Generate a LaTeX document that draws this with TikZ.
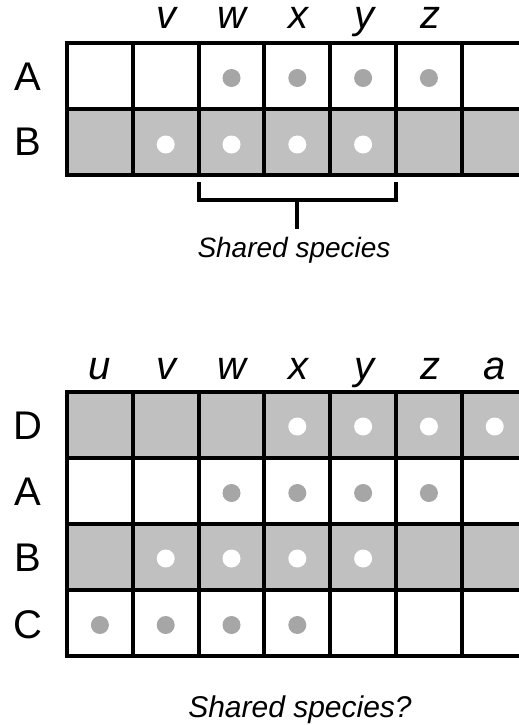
\documentclass[tikz,border=0pt]{standalone}
\usepackage{fontspec}
\setmainfont{Liberation Sans}
\usepackage{xcolor}
\usepackage{tikz}
\usetikzlibrary{positioning}
\definecolor{cellgray}{RGB}{192,192,192}
\definecolor{dotgray}{RGB}{166,166,166}
\tikzstyle{rowlabel} = [font=\fontsize{40}{40}\selectfont, inner sep=0pt]
\tikzstyle{collabel} = [font=\fontsize{40}{40}\selectfont\itshape, anchor=base, inner sep=0pt, text height=22pt, text depth=8pt]
\tikzstyle{caption} = [font=\fontsize{28}{28}\selectfont\itshape, anchor=base, inner sep=0pt]
\tikzstyle{graydot} = [circle, fill=dotgray, minimum size=18pt, inner sep=0pt]
\tikzstyle{whitedot} = [circle, fill=white, minimum size=18pt, inner sep=0pt]
\tikzstyle{gridline} = [line width=4pt]

\begin{document}
\begin{tikzpicture}[x=1pt, y=-1pt]
\useasboundingbox (0,0) rectangle (519,725);
\clip (0,0) rectangle (519,725);

% first table: sites A and B
\fill [cellgray] (67,109.1) rectangle (527.6,175);
\draw [gridline] (67,43.3) rectangle (527.6,175);
\draw [gridline] (67,109.1) -- (527.6,109.1);
\foreach \i in {1,...,6} \draw [gridline] ({67+65.8*\i},43.3) -- ({67+65.8*\i},175);

\foreach \i in {3,...,6} \node [graydot] at ({67+65.8*(\i-0.5)},78) {};
\foreach \i in {2,...,5} \node [whitedot] at ({67+65.8*(\i-0.5)},144.5) {};

\node (topA) [rowlabel] at (28,76.5) {A};
\node (topB) [rowlabel] at (28,142) {B};

\node (topv) [collabel] at (166,29) {v};
\node (topw) [collabel] at (232,29) {w};
\node (topx) [collabel] at (298,29) {x};
\node (topy) [collabel] at (364,29) {y};
\node (topz) [collabel] at (430,29) {z};

% bracket over the shared columns
\coordinate (brkL) at (198.6,182);
\coordinate (brkM) at (297,200);
\coordinate (brkR) at (396,182);
\node (shared) [caption] at (294,257) {Shared species};
\draw [gridline] (brkL) |- (brkM) -| (brkR);
\draw [gridline, shorten >=8pt] (brkM) -- (brkM |- shared.north);

% second table: sites D, A, B and C
\fill [cellgray] (67,392) rectangle (527.6,457.9);
\fill [cellgray] (67,523.8) rectangle (527.6,589.7);
\draw [gridline] (67,392) rectangle (527.6,655.6);
\foreach \j in {1,2,3} \draw [gridline] (67,{392+65.9*\j}) -- (527.6,{392+65.9*\j});
\foreach \i in {1,...,6} \draw [gridline] ({67+65.8*\i},392) -- ({67+65.8*\i},655.6);

\foreach \i in {4,...,7} \node [whitedot] at ({67+65.8*(\i-0.5)},426.5) {};
\foreach \i in {3,...,6} \node [graydot] at ({67+65.8*(\i-0.5)},493) {};
\foreach \i in {2,...,5} \node [whitedot] at ({67+65.8*(\i-0.5)},558.5) {};
\foreach \i in {1,...,4} \node [graydot] at ({67+65.8*(\i-0.5)},625) {};

\node (botD) [rowlabel] at (28,426) {D};
\node (botA) [rowlabel] at (28,492) {A};
\node (botB) [rowlabel] at (28,558) {B};
\node (botC) [rowlabel] at (28,625) {C};

\node (botu) [collabel] at (100,379) {u};
\node (botv) [collabel] at (166,379) {v};
\node (botw) [collabel] at (232,379) {w};
\node (botx) [collabel] at (298,379) {x};
\node (boty) [collabel] at (364,379) {y};
\node (botz) [collabel] at (430,379) {z};
\node (bota) [collabel] at (495,379) {a};

\node (sharedq) [caption, font=\fontsize{30}{30}\selectfont\itshape] at (300,717) {Shared species?};

\end{tikzpicture}
\end{document}
